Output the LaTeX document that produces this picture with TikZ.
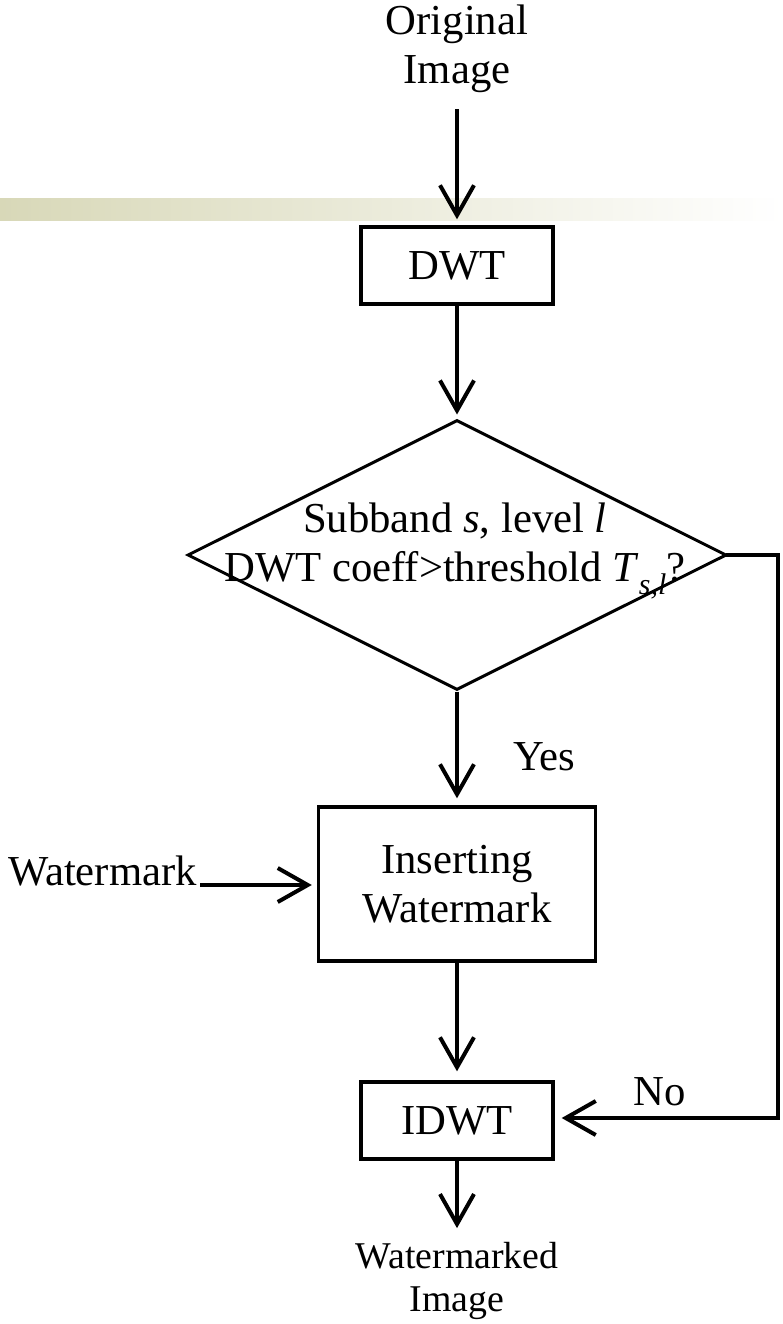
\documentclass[tikz,border=0pt]{standalone}
\usepackage{fontspec}
\setmainfont{Liberation Serif}
\usetikzlibrary{arrows.meta,shapes.geometric}
\begin{document}
\begin{tikzpicture}[x=1pt,y=-1pt,
  big/.style={font=\fontsize{42.7}{49}\selectfont},
  small/.style={font=\fontsize{37.8}{43}\selectfont},
  txt/.style={big,inner sep=0pt,align=center},
  procbox/.style={draw,line width=3.4pt,inner sep=0pt,big,align=center},
  arr/.style={line width=4pt,-{Straight Barb[length=30pt,width=34pt,line width=4pt]}},
  flow/.style={line width=4pt}
]
\useasboundingbox (0,0) rectangle (783,1324);
% gradient bar
\shade[left color={rgb,255:red,216;green,216;blue,184},right color=white,draw=none]
  (0,199) rectangle (783,221);

\node[txt] (orig) at (457,49) {Original\\Image};
\node[procbox,minimum width=192pt,minimum height=77pt] (dwt) at (457,265.5) {DWT};
\node[diamond,draw,line width=3pt,minimum width=539pt,minimum height=270pt,inner sep=0pt] (dec) at (457,555) {};
\node[txt] (dectext) at (455,551) {Subband \textit{s}, level \textit{l}\\DWT coeff>threshold \textit{T}\textsubscript{\textit{s,l}}?};
\node[txt,anchor=base west] (yes) at (513,770) {Yes};
\node[procbox,minimum width=277pt,minimum height=154pt] (ins) at (457,884) {Inserting\\Watermark};
\node[txt,anchor=base west] (wm) at (8,885) {Watermark};
\node[procbox,minimum width=192pt,minimum height=77pt] (idwt) at (457,1120.5) {IDWT};
\node[txt,anchor=base west] (no) at (633,1105) {No};
\node[txt,small] (out) at (457,1281) {Watermarked\\Image};
\coordinate (c1) at (778,555);
\coordinate (c2) at (778,1118);

\draw[arr,shorten <=16pt,shorten >=6pt] (orig.south) -- (dwt.north);
\draw[arr,shorten >=4pt] (dwt.south) -- (dec.north);
\draw[arr,shorten >=7pt] (dec.south) -- (ins.north);
\draw[arr,shorten >=9pt] (ins.south) -- (idwt.north);
\draw[arr,shorten <=3pt,shorten >=5pt] (wm.base east) -- (wm.base east -| ins.west);
\draw[flow,line cap=rect] (dec.east) -- (c1) -- (c2);
\draw[arr,shorten >=7pt] (c2) -- (c2 -| idwt.east);
\draw[arr,shorten >=14pt] (idwt.south) -- (out.north);
\end{tikzpicture}
\end{document}
